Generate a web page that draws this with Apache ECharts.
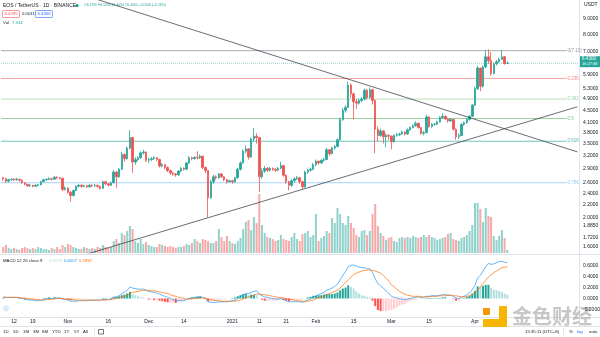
<!DOCTYPE html>
<html>
<head>
<meta charset="utf-8">
<script src="https://cdn.jsdelivr.net/npm/echarts@6.0.0/dist/echarts.min.js"></script>
<style>
html,body{margin:0;padding:0;background:#ffffff;}
#chart{width:600px;height:337px;}
</style>
</head>
<body>
<div id="chart"></div>
<script>
// ---------------- DATA ----------------
const startDate = '2020-10-08';          // first daily candle
const firstOpen = 2.70;                  // open of the first candle
const closes = [
2.68,2.63,2.66,2.67,2.66,2.67,2.65,2.60,2.57,2.54,
2.55,2.53,2.55,2.56,2.62,2.66,2.67,2.68,2.67,2.71,
2.70,2.69,2.47,2.50,2.42,2.36,2.45,2.53,2.55,2.53,
2.54,2.52,2.55,2.54,2.55,2.53,2.49,2.62,2.58,2.55,
2.60,2.82,2.72,2.88,3.22,3.12,3.38,3.66,3.04,3.10,
3.14,3.26,3.28,3.08,3.10,3.12,3.14,3.10,2.95,2.98,
2.92,2.85,2.80,2.78,2.76,2.84,2.90,2.88,3.02,3.14,
3.12,3.15,3.14,3.18,2.92,2.85,2.32,2.62,2.72,2.70,
2.78,2.72,2.66,2.62,2.64,2.62,2.70,2.88,3.02,3.30,
3.36,3.16,3.62,3.70,3.66,2.72,2.84,2.90,2.86,2.90,
2.88,2.86,2.90,2.96,2.75,2.62,2.55,2.64,2.68,2.70,
2.62,2.52,2.82,2.86,2.88,2.98,3.06,3.02,3.08,3.10,
3.34,3.24,3.38,3.42,3.60,4.20,4.50,4.60,5.45,5.10,
4.80,4.75,4.85,4.90,5.24,4.95,5.26,4.85,3.90,3.72,
3.85,3.68,3.72,3.70,3.55,3.72,3.74,3.76,3.82,3.76,
3.88,3.95,4.00,4.08,3.95,3.78,3.80,4.28,3.98,4.05,
4.05,4.12,4.26,4.30,4.22,4.15,4.20,3.90,3.68,3.72,
4.05,4.10,4.20,4.30,4.68,5.30,6.20,5.40,6.25,6.75,
6.55,5.95,6.40,6.50,6.62,6.75,6.42,6.43];
const highs = [
2.72,2.70,2.68,2.69,2.69,2.70,2.68,2.66,2.61,2.58,
2.57,2.56,2.57,2.58,2.64,2.68,2.69,2.71,2.70,2.74,
2.73,2.72,2.70,2.53,2.51,2.44,2.47,2.55,2.58,2.57,
2.56,2.56,2.57,2.57,2.58,2.56,2.54,2.64,2.63,2.59,
2.62,2.86,2.84,2.91,3.28,3.25,3.42,3.87,3.68,3.16,
3.18,3.30,3.34,3.30,3.14,3.16,3.18,3.16,3.12,3.02,
3.00,2.94,2.87,2.82,2.80,2.86,2.93,2.92,3.05,3.18,
3.17,3.18,3.30,3.22,3.19,2.94,2.86,2.66,2.76,2.75,
2.80,2.79,2.73,2.67,2.66,2.66,2.72,2.91,3.06,3.34,
3.45,3.38,3.66,3.94,3.78,3.68,2.90,2.95,2.93,2.93,
2.92,2.90,2.93,3.05,2.97,2.77,2.64,2.67,2.71,2.74,
2.72,2.64,2.85,2.89,2.92,3.02,3.10,3.08,3.11,3.14,
3.38,3.36,3.42,3.46,3.64,4.26,4.58,4.68,5.60,5.52,
5.15,4.90,4.92,4.98,5.30,5.28,5.35,5.30,4.88,3.98,
3.92,3.88,3.78,3.76,3.72,3.76,3.79,3.80,3.86,3.84,
3.92,3.99,4.04,4.14,4.10,3.97,3.85,4.35,4.30,4.08,
4.08,4.16,4.30,4.40,4.33,4.25,4.24,4.22,3.92,3.78,
4.08,4.14,4.24,4.34,4.72,5.38,6.30,6.22,6.32,7.12,
7.15,7.00,6.46,6.58,6.70,7.10,6.80,6.53];
const lows = [
2.64,2.60,2.61,2.64,2.63,2.64,2.62,2.58,2.55,2.52,
2.52,2.51,2.52,2.53,2.55,2.61,2.64,2.65,2.64,2.66,
2.67,2.66,2.44,2.45,2.39,2.25,2.34,2.44,2.51,2.50,
2.51,2.50,2.51,2.52,2.52,2.50,2.47,2.48,2.55,2.53,
2.54,2.59,2.50,2.70,2.86,3.05,3.10,3.35,2.80,2.98,
3.06,3.12,3.22,3.04,3.02,3.06,3.09,3.06,2.92,2.92,
2.88,2.82,2.76,2.74,2.72,2.74,2.82,2.85,2.86,3.00,
3.08,3.10,3.10,3.11,2.88,2.80,2.00,2.30,2.58,2.66,
2.68,2.70,2.63,2.58,2.60,2.58,2.60,2.68,2.85,3.00,
3.25,3.10,3.14,3.55,3.50,2.42,2.68,2.80,2.82,2.83,
2.84,2.82,2.84,2.88,2.72,2.58,2.45,2.52,2.60,2.65,
2.58,2.48,2.50,2.78,2.83,2.86,2.95,2.98,3.00,3.05,
3.08,3.18,3.22,3.34,3.40,3.58,4.15,4.42,4.58,4.95,
4.20,4.55,4.70,4.78,4.86,4.88,4.92,4.70,3.25,3.55,
3.68,3.50,3.40,3.60,3.35,3.52,3.68,3.70,3.74,3.72,
3.74,3.85,3.92,3.98,3.92,3.74,3.72,3.78,3.94,3.94,
4.00,4.02,4.10,4.22,4.18,4.10,4.12,3.86,3.60,3.62,
3.70,4.00,4.06,4.16,4.28,4.65,5.25,5.20,5.35,6.20,
6.40,5.85,5.90,6.32,6.45,6.58,6.36,6.41];
const volumes = [
6,8,5,4,5,4,3,5,6,5, 4,5,4,6,5,4,4,3,5,4, 6,4,8,6,
9,8,6,5,4,4,6,5,4,5, 4,6,5,8,6,5,6,12,14,10, 20,18,22,27,24,12,10,14,9,11,
8,7,6,6,9,8,7,6,7,6, 5,6,6,7,9,8,10,14,12,10, 14,13,12,10,10,12,24,16,12,17, 12,
10,9,12,15,24,31,33,23,36,30, 59,28,20,16,15,14,12,13,18,14, 13,12,16,20,14,12,19,20,22,16, 18,
39,12,15,17,22,20,35,30,45,39, 30,28,37,30,25,18,16,22,23,18, 22,39,49,27,20,17,13,15,
16,12,11,15,16,15,16,15,17,16, 15,16,18,16,18,16,15,13,14,15, 16,19,20,14,13,12,15,16,18,22, 28,
50,50,44,31,45,37,36,17,13,17,23,15,3];
const macdLine = [
0.03,0.02,0.02,0.02,0.02,0.02,0.01,0.00,-0.01,-0.02, -0.03,-0.03,-0.04,-0.04,-0.03,-0.02,-0.01,0.00,0.00,0.01, 0.01,0.01,-0.01,-0.02,
-0.03,-0.05,-0.05,-0.05,-0.04,-0.04,-0.04,-0.04,-0.03,-0.03, -0.03,-0.03,-0.03,-0.02,-0.02,-0.02,-0.01,0.02,0.03,0.05, 0.09,0.11,0.15,0.21,0.19,0.18,0.17,0.17,0.17,0.15,
0.13,0.12,0.11,0.10,0.08,0.06,0.04,0.02,0.00,-0.02, -0.04,-0.04,-0.04,-0.04,-0.02,0.00,0.01,0.02,0.03,0.04, 0.02,0.00,-0.06,-0.07,-0.07,-0.07,-0.06,-0.06,-0.06,-0.06, -0.05,
-0.04,-0.03,0.00,0.03,0.07,0.09,0.09,0.11,0.13,0.14, 0.08,0.05,0.03,0.02,0.01,0.00,-0.01,-0.01,0.00,-0.02, -0.04,-0.06,-0.06,-0.06,-0.06,-0.06,-0.07,-0.05,-0.03,-0.01, 0.02,
0.05,0.07,0.09,0.11,0.15,0.17,0.19,0.22,0.26,0.34, 0.42,0.49,0.58,0.60,0.61,0.59,0.57,0.56,0.56,0.54, 0.54,0.47,0.36,0.27,0.23,0.19,0.14,0.10,
0.04,0.02,0.01,0.00,-0.01,-0.02,-0.01,0.00,0.01,0.02, 0.03,0.02,0.02,0.04,0.04,0.05,0.05,0.05,0.06,0.07, 0.07,0.06,0.06,0.04,0.01,0.00,0.02,0.04,0.07,0.10, 0.16,
0.24,0.37,0.42,0.50,0.58,0.64,0.62,0.63,0.65,0.67,0.68,0.66,0.65];
const signalLine = [
0.02,0.02,0.02,0.02,0.02,0.02,0.02,0.01,0.01,0.00, -0.01,-0.01,-0.02,-0.02,-0.03,-0.03,-0.02,-0.02,-0.01,-0.01, 0.00,0.00,0.00,-0.01,
-0.01,-0.02,-0.02,-0.03,-0.03,-0.03,-0.03,-0.03,-0.03,-0.03, -0.03,-0.03,-0.03,-0.03,-0.03,-0.02,-0.02,-0.01,0.00,0.01, 0.03,0.04,0.06,0.09,0.11,0.12,0.13,0.14,0.15,0.15,
0.15,0.14,0.14,0.13,0.12,0.11,0.10,0.09,0.07,0.05, 0.04,0.02,0.01,0.00,-0.01,-0.01,-0.01,0.00,0.00,0.01, 0.01,0.01,-0.01,-0.02,-0.03,-0.04,-0.04,-0.05,-0.05,-0.05, -0.05,
-0.05,-0.05,-0.04,-0.03,-0.01,0.01,0.03,0.04,0.06,0.08, 0.08,0.07,0.07,0.06,0.05,0.04,0.03,0.02,0.02,0.01, 0.00,-0.01,-0.02,-0.03,-0.04,-0.04,-0.05,-0.05,-0.05,-0.04, -0.03,
0.00,0.01,0.03,0.04,0.07,0.09,0.11,0.13,0.15,0.19, 0.24,0.29,0.34,0.39,0.43,0.46,0.48,0.50,0.51,0.51, 0.52,0.51,0.50,0.48,0.46,0.42,0.37,0.32,
0.25,0.21,0.17,0.13,0.10,0.08,0.06,0.05,0.04,0.04, 0.04,0.03,0.03,0.03,0.03,0.04,0.04,0.04,0.05,0.05, 0.05,0.06,0.06,0.05,0.05,0.04,0.03,0.03,0.04,0.05, 0.07,
0.10,0.15,0.21,0.27,0.33,0.39,0.43,0.47,0.50,0.53,0.56,0.57,0.58];
const macdHist = [
0.01,0.00,0.00,0.00,0.00,0.00,-0.01,-0.01,-0.02,-0.02, -0.02,-0.02,-0.02,-0.02,0.00,0.01,0.01,0.02,0.01,0.02, 0.01,0.01,-0.01,-0.01,
-0.02,-0.03,-0.03,-0.02,-0.01,-0.01,-0.01,-0.01,0.00,0.00, 0.00,0.00,0.00,0.01,0.01,0.00,0.01,0.03,0.03,0.04, 0.06,0.07,0.09,0.12,0.08,0.06,0.04,0.03,0.02,0.00,
-0.02,-0.02,-0.03,-0.03,-0.04,-0.05,-0.06,-0.07,-0.07,-0.07, -0.08,-0.06,-0.05,-0.04,-0.01,0.01,0.02,0.02,0.03,0.03, 0.01,-0.01,-0.05,-0.05,-0.04,-0.03,-0.02,-0.01,-0.01,-0.01, 0.00,
0.01,0.02,0.04,0.06,0.08,0.08,0.06,0.07,0.07,0.06, 0.00,-0.02,-0.04,-0.04,-0.04,-0.04,-0.04,-0.03,-0.02,-0.03, -0.04,-0.05,-0.04,-0.03,-0.02,-0.02,-0.02,0.00,0.02,0.03, 0.05,
0.05,0.06,0.06,0.07,0.08,0.08,0.08,0.09,0.11,0.15, 0.18,0.20,0.24,0.21,0.18,0.13,0.09,0.06,0.05,0.03, 0.02,-0.04,-0.14,-0.21,-0.23,-0.23,-0.23,-0.22,
-0.21,-0.19,-0.16,-0.13,-0.11,-0.10,-0.07,-0.05,-0.03,-0.02, -0.01,-0.01,-0.01,0.01,0.01,0.01,0.01,0.01,0.01,0.02, 0.02,0.00,0.00,-0.01,-0.04,-0.04,-0.01,0.01,0.03,0.05, 0.09,
0.14,0.22,0.21,0.23,0.25,0.25,0.19,0.16,0.15,0.14,0.12,0.09,0.07];

const priceTicks = [9, 8, 7, 5.9, 5.3, 4.9, 4.5, 4.1, 3.8, 3.5, 3.2, 2.9, 2.6, 2.4, 2.2, 2.0, 1.885, 1.72, 1.6];
const macdTicks = [0.6, 0.4, 0.2, 0, -0.2];
const dateTickDates = ['2020-10-12','2020-10-19','2020-11-01','2020-11-16','2020-12-01','2020-12-14','2021-01-01','2021-01-11','2021-01-21','2021-02-01','2021-02-15','2021-03-01','2021-03-15','2021-04-01'];
const dateTickLabels = ['12','19','Nov','16','Dec','14','2021','11','21','Feb','15','Mar','15','Apr'];
const fibPrices = [7.07, 5.73, 4.90, 4.23, 3.56, 2.60];
const fibLabels = ['0(7.10)', '0.236', '0.382', '0.5', '0.618', '0.786'];
const fibEndDate = '2021-05-05';
const trendDown = [['2020-11-07', 10.76], ['2021-05-09', 3.285]];
const trendUp   = [['2020-11-07', 1.504], ['2021-05-09', 4.622]];

// ---------------- styling ----------------
const UP = '#26a69a', DOWN = '#ef5350';
const UPV = 'rgba(38,166,154,0.5)', DOWNV = 'rgba(239,83,80,0.5)';
const fibColors = ['#9598a1', '#f28b82', '#a5d6a7', '#81c784', '#4db6ac', '#90caf9'];
const FONT = 'Liberation Sans, Arial, sans-serif';
const xMin = -0.815, xMax = 213.6;
const priceAxisMin = 1.5268, priceAxisMax = 10.379;

const dayMs = 86400000;
function dayIndex(d) { return Math.round((Date.parse(d + 'T00:00:00Z') - Date.parse(startDate + 'T00:00:00Z')) / dayMs); }
const N = closes.length;
const opens = closes.map((c, i) => i === 0 ? firstOpen : closes[i - 1]);
const L = Math.log;

const candles = closes.map((c, i) => [i, L(opens[i]), L(c), L(lows[i]), L(highs[i])]);
const volData = volumes.map((v, i) => ({ value: [i, v], itemStyle: { color: closes[i] >= opens[i] ? UPV : DOWNV } }));
const histData = macdHist.map((h, i) => {
  const prev = i > 0 ? macdHist[i - 1] : 0;
  let col;
  if (h >= 0) col = h >= prev ? '#26a69a' : '#b2dfdb';
  else col = h < prev ? '#ff5252' : '#ffcdd2';
  return { value: [i, h], itemStyle: { color: col } };
});
const tickIdx = dateTickDates.map(dayIndex);

const series = [];
series.push({ type: 'bar', xAxisIndex: 1, yAxisIndex: 1, data: volData, barWidth: 2, z: 1, silent: true });
fibPrices.forEach((p, k) => {
  series.push({
    type: 'line', xAxisIndex: 0, yAxisIndex: 0, symbol: 'none', silent: true, z: 2,
    data: [[xMin, L(p)], [dayIndex(fibEndDate), L(p)]],
    lineStyle: { color: fibColors[k], width: 0.8 },
    endLabel: { show: true, formatter: fibLabels[k], color: fibColors[k], fontSize: 4.5, fontFamily: FONT, distance: 1 }
  });
});
series.push({
  type: 'line', xAxisIndex: 0, yAxisIndex: 0, symbol: 'none', silent: true, z: 2,
  data: [[xMin, L(closes[N - 1])], [xMax, L(closes[N - 1])]],
  lineStyle: { color: UP, width: 0.6, type: [1, 1], opacity: 0.8 }
});
[trendDown, trendUp].forEach(t => {
  series.push({
    type: 'line', xAxisIndex: 0, yAxisIndex: 0, symbol: 'none', silent: true, z: 6,
    data: t.map(pt => [dayIndex(pt[0]), L(pt[1])]),
    lineStyle: { color: '#2a2e39', width: 0.7 }
  });
});
series.push({
  type: 'candlestick', xAxisIndex: 0, yAxisIndex: 0, data: candles, encode: { x: 0, y: [1, 2, 3, 4] },
  barWidth: 2, z: 5, silent: true,
  itemStyle: { color: UP, color0: DOWN, borderColor: UP, borderColor0: DOWN, borderWidth: 0.8 }
});
series.push({ type: 'bar', xAxisIndex: 2, yAxisIndex: 2, data: histData, barWidth: 2, silent: true });
series.push({ type: 'line', xAxisIndex: 2, yAxisIndex: 2, symbol: 'none', silent: true, data: macdLine.map((v, i) => [i, v]), lineStyle: { color: '#2196f3', width: 0.7 } });
series.push({ type: 'line', xAxisIndex: 2, yAxisIndex: 2, symbol: 'none', silent: true, data: signalLine.map((v, i) => [i, v]), lineStyle: { color: '#ff6d00', width: 0.7 } });

const hiddenX = (g) => ({ type: 'value', gridIndex: g, min: xMin, max: xMax, show: false });

const option = {
  animation: false,
  backgroundColor: '#ffffff',
  grid: [
    { left: 1, right: 21, top: 0, height: 253, outerBoundsMode: 'none' },
    { left: 1, right: 21, top: 173, height: 80, outerBoundsMode: 'none' },
    { left: 1, right: 21, top: 256, height: 62, outerBoundsMode: 'none' }
  ],
  xAxis: [
    hiddenX(0), hiddenX(1),
    {
      type: 'value', gridIndex: 2, min: xMin, max: xMax, position: 'bottom',
      axisLine: { show: false }, axisTick: { show: false }, splitLine: { show: false },
      axisLabel: {
        customValues: tickIdx, fontSize: 5, color: '#131722', fontFamily: FONT, margin: 1,
        formatter: v => { const k = tickIdx.indexOf(Math.round(v)); return k >= 0 ? dateTickLabels[k] : ''; }
      }
    }
  ],
  yAxis: [
    {
      type: 'value', gridIndex: 0, position: 'right', min: L(priceAxisMin), max: L(priceAxisMax),
      axisLine: { show: false }, axisTick: { show: false }, splitLine: { show: false },
      axisLabel: {
        customValues: priceTicks.map(L), fontSize: 5, color: '#131722', fontFamily: FONT, margin: 4,
        formatter: v => Math.exp(v).toFixed(4)
      }
    },
    { type: 'value', gridIndex: 1, min: 0, max: 80, show: false },
    {
      type: 'value', gridIndex: 2, position: 'right', min: -0.355, max: 0.773,
      axisLine: { show: false }, axisTick: { show: false }, splitLine: { show: false },
      axisLabel: {
        customValues: macdTicks, fontSize: 5, color: '#131722', fontFamily: FONT, margin: 4,
        formatter: v => v.toFixed(4)
      }
    }
  ],
  series: series
};

const chart = echarts.init(document.getElementById('chart'), null, { renderer: 'canvas' });
chart.setOption(option);

const tagY = chart.convertToPixel({ xAxisIndex: 0, yAxisIndex: 0 }, [0, L(closes[N - 1])])[1];
const txt = (x, y, s, fill, size) => ({
  type: 'text', x: x, y: y, silent: true,
  style: { text: s, fill: fill, font: (size || 5.5) + 'px ' + FONT, verticalAlign: 'middle' }
});
const graphics = [
  { type: 'line', silent: true, shape: { x1: 579.5, y1: 0, x2: 579.5, y2: 326 }, style: { stroke: '#e0e3eb', lineWidth: 1 } },
  { type: 'line', silent: true, shape: { x1: 0, y1: 254.5, x2: 600, y2: 254.5 }, style: { stroke: '#e0e3eb', lineWidth: 1 } },
  { type: 'line', silent: true, shape: { x1: 0, y1: 317.5, x2: 600, y2: 317.5 }, style: { stroke: '#e0e3eb', lineWidth: 1 } },
  { type: 'line', silent: true, shape: { x1: 0, y1: 326.5, x2: 600, y2: 326.5 }, style: { stroke: '#e0e3eb', lineWidth: 1 } },
  txt(3, 5.5, 'EOS / TetherUS · 1D · BINANCE', '#131722', 5),
  { type: 'circle', silent: true, shape: { cx: 77, cy: 5.5, r: 1.6 }, style: { fill: '#089981' } },
  txt(84, 5.5, 'O6.4709 H6.5330 L6.4094 C6.4300 +0.0106 (+0.16%)', '#26a69a', 3.4),
  { type: 'rect', silent: true, shape: { x: 2.5, y: 10.5, width: 17, height: 7, r: 1 }, style: { fill: '#fff', stroke: '#ef5350', lineWidth: 0.6 } },
  txt(4.5, 14, '6.4295', '#ef5350', 4.3),
  txt(22, 14, '0.0011', '#131722', 4.3),
  { type: 'rect', silent: true, shape: { x: 35.5, y: 10.5, width: 17, height: 7, r: 1 }, style: { fill: '#fff', stroke: '#2962ff', lineWidth: 0.6 } },
  txt(37.5, 14, '6.4306', '#2962ff', 4.3),
  txt(3, 22.5, 'Vol', '#131722', 4.3),
  txt(12, 22.5, '7.334', '#26a69a', 4.3),
  txt(584, 5, 'USDT', '#131722', 5),
  { type: 'rect', silent: true, shape: { x: 580, y: tagY - 7, width: 20, height: 11 }, style: { fill: '#26a69a' } },
  txt(582, tagY - 4, '6.4300', '#ffffff', 4.6),
  txt(582, tagY + 1, '16:27:48', '#ffffff', 4),
  txt(3, 260.5, 'MACD 12 26 close 9', '#131722', 4.3),
  txt(49, 260.5, '0.0670', '#a8dcd7', 4.3),
  txt(64, 260.5, '0.6507', '#2196f3', 4.3),
  txt(79, 260.5, '0.5837', '#ff6d00', 4.3),
  { type: 'circle', silent: true, shape: { cx: 6, cy: 308.5, r: 3 }, style: { fill: '#d6ecfb' } },
  txt(3, 331.5, '1D', '#131722', 4.3), txt(13, 331.5, '5D', '#131722', 4.3), txt(23, 331.5, '1M', '#131722', 4.3),
  txt(33, 331.5, '3M', '#131722', 4.3), txt(42, 331.5, '6M', '#131722', 4.3), txt(52, 331.5, 'YTD', '#131722', 4.3),
  txt(64, 331.5, '1Y', '#131722', 4.3), txt(74, 331.5, '5Y', '#131722', 4.3), txt(83, 331.5, 'All', '#131722', 4.3),
  { type: 'line', silent: true, shape: { x1: 94.5, y1: 328, x2: 94.5, y2: 335 }, style: { stroke: '#e0e3eb', lineWidth: 1 } },
  { type: 'rect', silent: true, shape: { x: 98.5, y: 329.5, width: 5, height: 4.5 }, style: { fill: 'none', stroke: '#131722', lineWidth: 0.6 } },
  txt(525, 331.5, '15:35:11 (UTC+8)', '#131722', 4.3),
  { type: 'line', silent: true, shape: { x1: 563.5, y1: 328, x2: 563.5, y2: 335 }, style: { stroke: '#e0e3eb', lineWidth: 1 } },
  txt(569, 331.5, '%', '#131722', 4.3),
  txt(577, 331.5, 'log', '#2962ff', 4.3),
  txt(589, 331.5, 'auto', '#131722', 4.3),
  { type: 'rect', silent: true, shape: { x: 483, y: 308, width: 7, height: 7, r: 1 }, style: { fill: '#f39800' } },
  { type: 'rect', silent: true, shape: { x: 499, y: 306, width: 8, height: 21, r: 1 }, style: { fill: '#f7b500' } },
  { type: 'rect', silent: true, shape: { x: 483, y: 319, width: 24, height: 8, r: 1 }, style: { fill: '#f7b500' } },
  { type: 'text', silent: true, x: 512, y: 316.5, style: { text: '金色财经', fill: 'rgba(175,175,175,0.7)', font: 'bold 20px "Noto Sans CJK SC"', verticalAlign: 'middle' } }
];
chart.setOption({ graphic: graphics });
</script>
</body>
</html>
